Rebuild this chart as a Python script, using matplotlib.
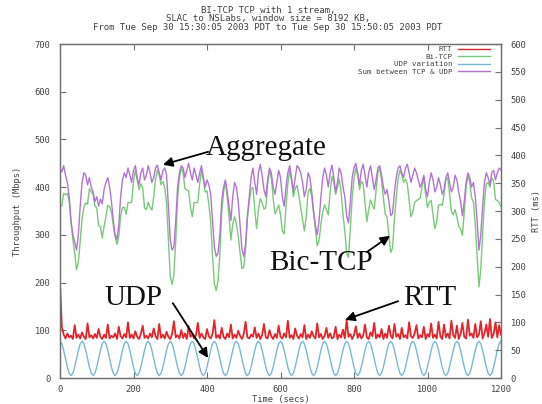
import numpy as np
import matplotlib
matplotlib.use("Agg")
import matplotlib.pyplot as plt
from matplotlib.lines import Line2D

# ---- data (5 s samples, 0..1200 s) ----
time_step = 5

udp = [
    77, 72, 58, 41, 23, 10, 5, 10, 23, 41, 58, 72,
    77, 72, 58, 41, 23, 10, 5, 10, 23, 41, 58, 72,
    77, 72, 58, 41, 23, 10, 5, 10, 23, 41, 58, 72,
    77, 72, 58, 41, 23, 10, 5, 10, 23, 41, 58, 72,
    77, 72, 58, 41, 23, 10, 5, 10, 23, 41, 58, 72,
    77, 72, 58, 41, 23, 10, 5, 10, 23, 41, 58, 72,
    77, 72, 58, 41, 23, 10, 5, 10, 23, 41, 58, 72,
    77, 72, 58, 41, 23, 10, 5, 10, 23, 41, 58, 72,
    77, 72, 58, 41, 23, 10, 5, 10, 23, 41, 58, 72,
    77, 72, 58, 41, 23, 10, 5, 10, 23, 41, 58, 72,
    77, 72, 58, 41, 23, 10, 5, 10, 23, 41, 58, 72,
    77, 72, 58, 41, 23, 10, 5, 10, 23, 41, 58, 72,
    77, 72, 58, 41, 23, 10, 5, 10, 23, 41, 58, 72,
    77, 72, 58, 41, 23, 10, 5, 10, 23, 41, 58, 72,
    77, 72, 58, 41, 23, 10, 5, 10, 23, 41, 58, 72,
    77, 72, 58, 41, 23, 10, 5, 10, 23, 41, 58, 72,
    77, 72, 58, 41, 23, 10, 5, 10, 23, 41, 58, 72,
    77, 72, 58, 41, 23, 10, 5, 10, 23, 41, 58, 72,
    77, 72, 58, 41, 23, 10, 5, 10, 23, 41, 58, 72,
    77, 72, 58, 41, 23, 10, 5, 10, 23, 41, 58, 72,
    77,
]

aggregate = [
    440, 432, 445, 425, 410, 380, 330, 300, 285, 268, 300, 360,
    410, 430, 425, 405, 420, 400, 390, 370, 380, 360, 375, 365,
    395, 410, 420, 400, 370, 330, 300, 290, 320, 380, 415, 430,
    420, 440, 425, 410, 435, 445, 420, 405, 430, 440, 415, 425,
    445, 430, 410, 420, 440, 446, 430, 415, 435, 440, 425, 360,
    290, 268, 275, 330, 400, 430, 445, 440, 420, 435, 450, 430,
    415, 440, 425, 410, 430, 445, 420, 400, 415, 405, 385, 330,
    275, 255, 262, 300, 370, 400, 415, 390, 360, 330, 380, 410,
    400, 370, 320, 270, 255, 280, 340, 380, 420, 440, 410, 385,
    430, 448, 425, 395, 380, 415, 440, 430, 400, 385, 410, 435,
    420, 380, 360, 400, 430, 445, 420, 390, 420, 445, 440, 430,
    410, 380, 395, 430, 420, 390, 350, 320, 300, 330, 380, 420,
    440, 425, 400, 430, 446, 420, 390, 410, 440, 430, 400, 380,
    340, 325, 370, 420, 440, 450, 430, 405, 435, 448, 425, 400,
    430, 445, 420, 395, 415, 440, 445, 425, 400, 385, 395, 370,
    340, 345, 390, 420, 440, 445, 430, 420, 440, 448, 430, 410,
    425, 440, 430, 415, 400, 410, 425, 395, 380, 410, 430, 415,
    390, 400, 420, 405, 385, 395, 420, 430, 410, 390, 400, 425,
    415, 390, 370, 340, 370, 410, 430, 420, 400, 410, 380, 330,
    268, 300, 360, 410, 430, 420, 405, 430, 435, 415, 430, 440,
    436,
]

rtt = [
    170, 92, 78, 71, 80, 73, 76, 70, 95, 72, 78, 71,
    82, 74, 70, 98, 73, 77, 71, 79, 72, 88, 74, 70,
    78, 72, 96, 71, 76, 73, 80, 70, 92, 75, 71, 79,
    73, 100, 72, 78, 71, 84, 74, 70, 79, 94, 72, 76,
    71, 80, 73, 89, 75, 70, 97, 72, 78, 71, 83, 74,
    70, 79, 102, 73, 77, 71, 86, 72, 80, 70, 93, 74,
    78, 71, 76, 99, 72, 80, 73, 70, 88, 75, 71, 79,
    104, 72, 77, 71, 90, 74, 70, 80, 73, 96, 71, 78,
    72, 85, 76, 70, 79, 101, 73, 71, 78, 74, 91, 72,
    80, 70, 77, 97, 73, 71, 86, 75, 70, 79, 72, 94,
    74, 71, 80, 73, 103, 72, 77, 70, 89, 76, 71, 79,
    73, 95, 70, 78, 72, 84, 75, 71, 98, 73, 79, 70,
    76, 90, 72, 80, 71, 74, 92, 70, 78, 73, 87, 71,
    105, 74, 79, 70, 77, 93, 72, 80, 71, 76, 96, 73,
    70, 82, 75, 99, 71, 78, 73, 88, 70, 80, 72, 94,
    76, 71, 97, 74, 79, 70, 90, 73, 77, 71, 100, 75,
    72, 80, 95, 71, 77, 73, 92, 70, 79, 74, 98, 72,
    78, 71, 101, 75, 70, 96, 73, 80, 71, 103, 77, 72,
    94, 70, 79, 99, 74, 71, 105, 76, 80, 72, 97, 73,
    78, 102, 71, 80, 96, 74, 106, 72, 79, 100, 73, 95,
    78,
]

x_ticks = [0, 200, 400, 600, 800, 1000, 1200]
y_ticks = [0, 100, 200, 300, 400, 500, 600, 700]
y2_ticks = [0, 50, 100, 150, 200, 250, 300, 350, 400, 450, 500, 550, 600]

title_lines = [
    "BI-TCP TCP with 1 stream,",
    "SLAC to NSLabs, window size = 8192 KB,",
    "From Tue Sep 30 15:30:05 2003 PDT to Tue Sep 30 15:50:05 2003 PDT",
]

# ---- derived series ----
t = np.arange(len(udp)) * time_step
udp_a = np.array(udp, dtype=float)
agg_a = np.array(aggregate, dtype=float)
bitcp = agg_a - udp_a

# ---- styling ----
mono = "DejaVu Sans Mono"
serif = "Liberation Serif"
frame_col = "#707070"
text_col = "#404040"
c_rtt = "#e3242b"
c_tcp = "#7cc87a"
c_udp = "#7ab8d2"
c_sum = "#b274d2"
small = 6.3

fig = plt.figure(figsize=(5.42, 4.04), dpi=100)
ax = fig.add_axes([60 / 542, 1 - 378 / 404, 441 / 542, 334 / 404])
ax2 = ax.twinx()

ax.plot(t, udp_a, color=c_udp, lw=1.0, zorder=2)
ax.plot(t, bitcp, color=c_tcp, lw=1.0, zorder=3)
ax.plot(t, agg_a, color=c_sum, lw=1.0, zorder=4)
ax2.plot(t, rtt, color=c_rtt, lw=1.3, zorder=2)

ax.set_xlim(0, 1200)
ax.set_ylim(0, 700)
ax2.set_ylim(0, 600)
ax.set_xticks(x_ticks)
ax.set_yticks(y_ticks)
ax2.set_yticks(y2_ticks)

for a in (ax, ax2):
    for s in a.spines.values():
        s.set_color(frame_col)
        s.set_linewidth(0.9)
ax.tick_params(axis="both", direction="in", length=4, width=0.8,
               color=frame_col, labelsize=small, labelcolor=text_col,
               top=True, right=False, pad=7)
ax.tick_params(axis="x", pad=5)
ax2.tick_params(axis="y", direction="in", length=4, width=0.8,
                color=frame_col, labelsize=small, labelcolor=text_col, pad=7)
for lab in ax.get_xticklabels() + ax.get_yticklabels() + ax2.get_yticklabels():
    lab.set_family(mono)

ax.set_xlabel("Time (secs)", fontsize=small, family=mono, color=text_col, labelpad=1)
ax.set_ylabel("Throughput (Mbps)", fontsize=small, family=mono, color=text_col, labelpad=9)
ax2.set_ylabel("RTT (ms)", fontsize=small, family=mono, color=text_col, labelpad=4)

for i, line in enumerate(title_lines):
    fig.text(268 / 542, 1 - (10 + 9 * i) / 404, line, ha="center", va="center",
             fontsize=6.5, family=mono, color=text_col)

# legend (text first, then the line sample)
handles = [
    Line2D([], [], color=c_rtt, lw=1.0),
    Line2D([], [], color=c_tcp, lw=1.0),
    Line2D([], [], color=c_udp, lw=1.0),
    Line2D([], [], color=c_sum, lw=1.0),
]
labels = ["RTT", "Bi-TCP", "UDP variation", "Sum between TCP & UDP"]
leg = ax2.legend(handles, labels, loc="upper right", bbox_to_anchor=(0.975, 0.994),
                 markerfirst=False, frameon=False, handlelength=4.4,
                 handletextpad=0.7, labelspacing=0.2, borderpad=0, borderaxespad=0,
                 prop={"family": mono, "size": 5.3})
for txt in leg.get_texts():
    txt.set_color(text_col)

# callouts, positioned in throughput coordinates
arrow = dict(arrowstyle="-|>", color="black", lw=1.3, mutation_scale=14,
             shrinkA=0, shrinkB=0)
callouts = [
    ("Aggregate", (560, 482), (403, 474), (280, 447)),
    ("Bic-TCP", (710, 241), (835, 264), (898, 298)),
    ("UDP", (201, 168), (307, 157), (403, 42)),
    ("RTT", (1007, 168), (920, 161), (776, 122)),
]
for label, pos, tail, tip in callouts:
    ax2.text(pos[0], pos[1], label, transform=ax.transData, ha="center", va="center",
             fontsize=21, family=serif, color="#111111", zorder=10)
    ax2.annotate("", xy=tip, xytext=tail, xycoords=ax.transData,
                 textcoords=ax.transData, arrowprops=arrow, zorder=10)

fig.savefig("out.png", dpi=100)
